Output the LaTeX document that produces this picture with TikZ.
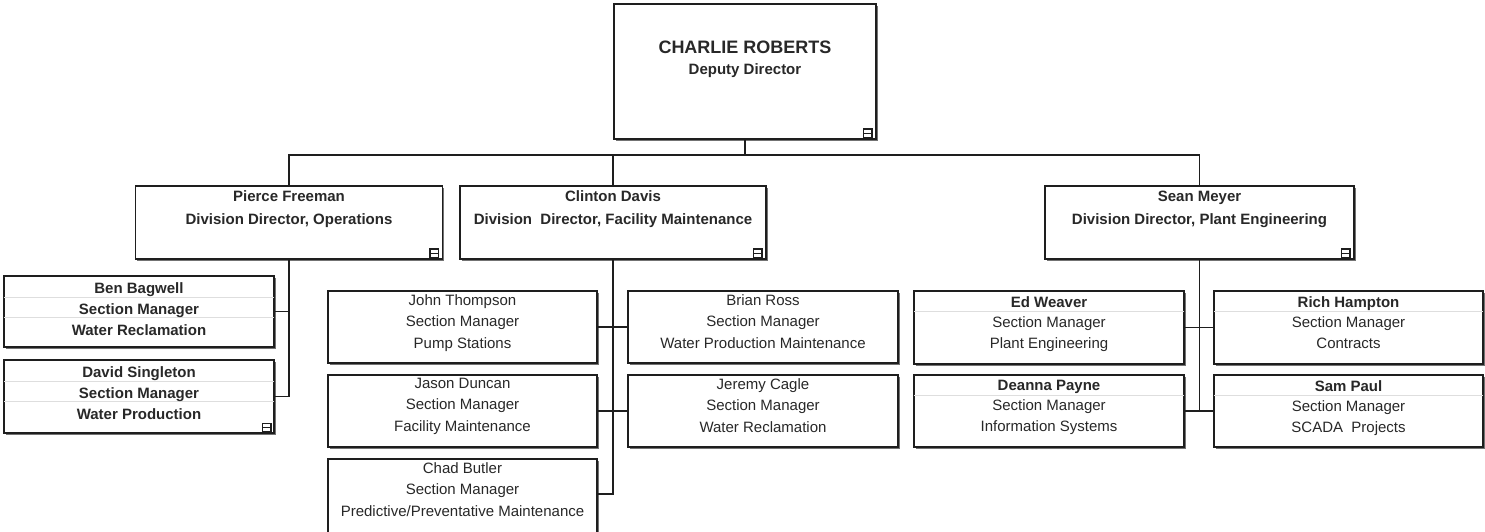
\documentclass[tikz,border=0pt]{standalone}
\usepackage{fontspec}
\setmainfont{Liberation Sans}
\usetikzlibrary{shadows,positioning,calc}
\definecolor{inkline}{RGB}{30,30,30}
\definecolor{rowline}{RGB}{222,222,222}
\definecolor{inktext}{RGB}{40,40,40}

\tikzset{
  card/.style={draw=inkline,line width=1.3pt,fill=white,inner sep=0pt,
    drop shadow={shadow xshift=1.8pt,shadow yshift=-1.8pt,fill=black!55,opacity=1}},
  link/.style={draw=inkline,line width=1.2pt},
  rowsep/.style={draw=rowline,line width=0.8pt},
  foldmark/.style={draw=inkline,line width=1.4pt,fill=white,minimum size=8.5pt,inner sep=0pt,
    path picture={\draw[inkline,line width=1.4pt]
      (path picture bounding box.west) -- (path picture bounding box.east);}},
  bosstext/.style={inner sep=0pt,align=center,text=inktext,
    font=\fontsize{15}{21}\selectfont\bfseries},
  divtext/.style={inner sep=0pt,align=center,text=inktext,
    font=\fontsize{15}{23}\selectfont\bfseries},
  sectext/.style={inner sep=0pt,align=center,text=inktext,
    font=\fontsize{15}{21}\selectfont},
}

\begin{document}
\begin{tikzpicture}[x=1pt,y=-1pt]
  \useasboundingbox (0,0) rectangle (1485,531);

  % deputy director
  \node[card,minimum width=262pt,minimum height=135pt] (deputy) at (745,71.5) {};
  \node[bosstext,below=37.5pt of deputy.north] (deputy-txt)
    {{\fontsize{18}{21}\selectfont CHARLIE ROBERTS}\\Deputy Director};
  \node[foldmark,anchor=south east] (deputy-fold) at ($(deputy.south east)+(-4,-1.5)$) {};

  % division directors
  \node[card,minimum width=307pt,minimum height=73pt] (pierce) at (289,222.5) {};
  \node[divtext,below=5.5pt of pierce.north] (pierce-txt)
    {Pierce Freeman\\Division Director, Operations};
  \node[foldmark,anchor=south east] (pierce-fold) at ($(pierce.south east)+(-4,-1.5)$) {};

  \node[card,minimum width=306pt,minimum height=73pt] (clinton) at (613,222.5) {};
  \node[divtext,below=5.5pt of clinton.north] (clinton-txt)
    {Clinton Davis\\Division\ \ Director, Facility Maintenance};
  \node[foldmark,anchor=south east] (clinton-fold) at ($(clinton.south east)+(-4,-1.5)$) {};

  \node[card,minimum width=309pt,minimum height=73pt] (sean) at (1199.5,222.5) {};
  \node[divtext,below=5.5pt of sean.north] (sean-txt)
    {Sean Meyer\\Division Director, Plant Engineering};
  \node[foldmark,anchor=south east] (sean-fold) at ($(sean.south east)+(-4,-1.5)$) {};

  % operations
  \node[card,minimum width=270pt,minimum height=71pt] (ben) at (139,311.5) {};
  \draw[rowsep] ($(ben.north west)+(1,22)$) -- ($(ben.north east)+(-1,22)$);
  \draw[rowsep] ($(ben.north west)+(1,42)$) -- ($(ben.north east)+(-1,42)$);
  \node[sectext,font=\fontsize{15}{21}\selectfont\bfseries,below=6.6pt of ben.north] (ben-txt)
    {Ben Bagwell\\Section Manager\\Water Reclamation};

  \node[card,minimum width=270pt,minimum height=73pt] (david) at (139,396.5) {};
  \draw[rowsep] ($(david.north west)+(1,22)$) -- ($(david.north east)+(-1,22)$);
  \draw[rowsep] ($(david.north west)+(1,42)$) -- ($(david.north east)+(-1,42)$);
  \node[sectext,font=\fontsize{15}{21}\selectfont\bfseries,below=6.6pt of david.north] (david-txt)
    {David Singleton\\Section Manager\\Water Production};
  \node[foldmark,anchor=south east] (david-fold) at ($(david.south east)+(-3,-1)$) {};

  % facility maintenance
  \node[card,minimum width=269pt,minimum height=72pt] (john) at (462.5,327) {};
  \node[sectext,font=\fontsize{15}{21.5}\selectfont,below=3.6pt of john.north] (john-txt)
    {John Thompson\\Section Manager\\Pump Stations};
  \node[card,minimum width=270pt,minimum height=72pt] (brian) at (763,327) {};
  \node[sectext,font=\fontsize{15}{21.5}\selectfont,below=3.6pt of brian.north] (brian-txt)
    {Brian Ross\\Section Manager\\Water Production Maintenance};
  \node[card,minimum width=269pt,minimum height=72pt] (jason) at (462.5,411) {};
  \node[sectext,font=\fontsize{15}{21.5}\selectfont,below=3.6pt of jason.north] (jason-txt)
    {Jason Duncan\\Section Manager\\Facility Maintenance};
  \node[card,minimum width=270pt,minimum height=72pt] (jeremy) at (763,411) {};
  \node[sectext,font=\fontsize{15}{21.5}\selectfont,below=3.6pt of jeremy.north] (jeremy-txt)
    {Jeremy Cagle\\Section Manager\\Water Reclamation};
  \node[card,minimum width=269pt,minimum height=78pt] (chad) at (462.5,498) {};
  \node[sectext,font=\fontsize{15}{21.5}\selectfont,below=3.6pt of chad.north] (chad-txt)
    {Chad Butler\\Section Manager\\Predictive/Preventative Maintenance};

  % plant engineering
  \node[card,minimum width=270pt,minimum height=73pt] (ed) at (1049,327.5) {};
  \draw[rowsep] ($(ed.north west)+(1,21)$) -- ($(ed.north east)+(-1,21)$);
  \node[sectext,font=\fontsize{15}{20.5}\selectfont,below=5.6pt of ed.north] (ed-txt)
    {\textbf{Ed Weaver}\\Section Manager\\Plant Engineering};
  \node[card,minimum width=269pt,minimum height=73pt] (rich) at (1348.5,327.5) {};
  \draw[rowsep] ($(rich.north west)+(1,21)$) -- ($(rich.north east)+(-1,21)$);
  \node[sectext,font=\fontsize{15}{20.5}\selectfont,below=5.6pt of rich.north] (rich-txt)
    {\textbf{Rich Hampton}\\Section Manager\\Contracts};
  \node[card,minimum width=270pt,minimum height=72pt] (deanna) at (1049,411) {};
  \draw[rowsep] ($(deanna.north west)+(1,21)$) -- ($(deanna.north east)+(-1,21)$);
  \node[sectext,font=\fontsize{15}{20.5}\selectfont,below=5.6pt of deanna.north] (deanna-txt)
    {\textbf{Deanna Payne}\\Section Manager\\Information Systems};
  \node[card,minimum width=269pt,minimum height=72pt] (sam) at (1348.5,411) {};
  \draw[rowsep] ($(sam.north west)+(1,21)$) -- ($(sam.north east)+(-1,21)$);
  \node[sectext,font=\fontsize{15}{20.5}\selectfont,below=5.6pt of sam.north] (sam-txt)
    {\textbf{Sam Paul}\\Section Manager\\SCADA\ \ Projects};

  % connectors
  \coordinate (bus) at (745,155);
  \draw[link] (deputy.south) -- (bus);
  \draw[link] (pierce.north) |- (bus) -| (sean.north);
  \draw[link] (clinton.north) -- (clinton.north |- bus);
  \draw[link] (pierce.south) |- (ben.east);
  \draw[link] (pierce.south) |- (david.east);
  \draw[link] (clinton.south) |- ($(chad.east)+(0,-4)$);
  \draw[link] (john.east) -- (brian.west);
  \draw[link] (jason.east) -- (jeremy.west);
  \draw[link] (sean.south) -- (sean.south |- deanna.east);
  \draw[link] (ed.east) -- (rich.west);
  \draw[link] (deanna.east) -- (sam.west);
\end{tikzpicture}
\end{document}
